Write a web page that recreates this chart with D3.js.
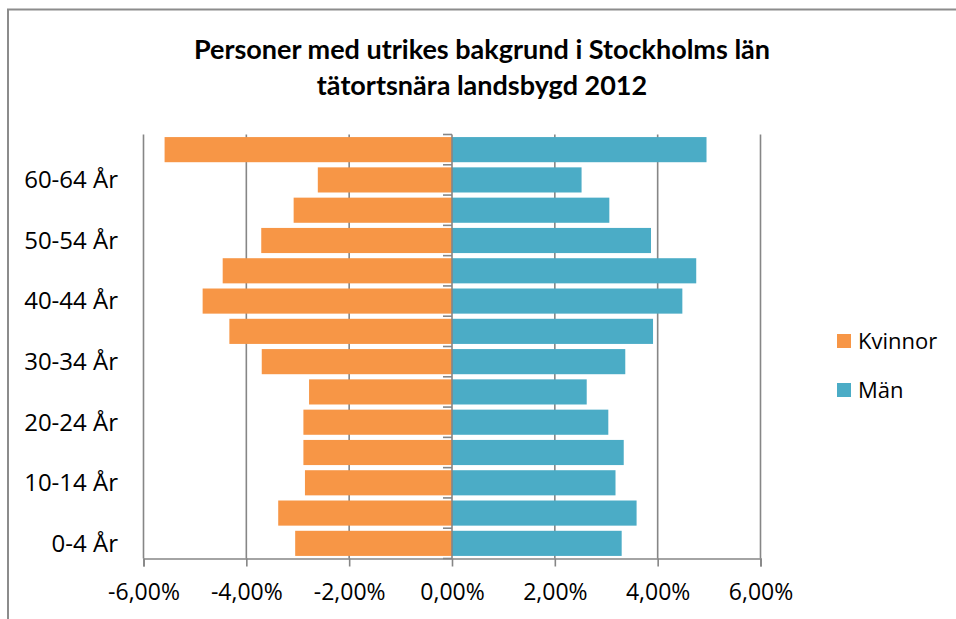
<!DOCTYPE html>
<html>
<head>
<meta charset="utf-8">
<script src="https://cdn.jsdelivr.net/npm/d3@7"></script>
<style>
  html, body { margin: 0; padding: 0; background: #fff; }
  svg { display: block; }
</style>
</head>
<body>
<svg id="chart" width="956" height="619"></svg>
<script>
const titleLines = ["Personer med utrikes bakgrund i Stockholms län", "tätortsnära landsbygd 2012"];
const categories = ["0-4 År","5-9 År","10-14 År","15-19 År","20-24 År","25-29 År","30-34 År","35-39 År","40-44 År","45-49 År","50-54 År","55-59 År","60-64 År","65- År"];
const shownLabels = ["0-4 År","10-14 År","20-24 År","30-34 År","40-44 År","50-54 År","60-64 År"];
const kvinnor = [3.05, 3.38, 2.86, 2.89, 2.89, 2.78, 3.70, 4.33, 4.85, 4.46, 3.71, 3.08, 2.61, 5.59];
const man = [3.30, 3.59, 3.18, 3.34, 3.04, 2.62, 3.37, 3.91, 4.48, 4.75, 3.87, 3.06, 2.52, 4.95];
const xTicks = [-6, -4, -2, 0, 2, 4, 6];
const seriesNames = ["Kvinnor", "Män"];
const colors = ["#F79646", "#4BACC6"];

const svg = d3.select("#chart");
const axisColor = "#868686";
const fontAxis = "'Open Sans', sans-serif";

// outer frame
svg.append("rect").attr("x", 8).attr("y", 9.5).attr("width", 1000).attr("height", 700)
  .attr("fill", "none").attr("stroke", "#8c8c8c").attr("stroke-width", 2);

// title
svg.append("text").attr("text-anchor", "middle")
  .attr("font-family", "Lato, sans-serif").attr("font-weight", "bold").attr("font-size", 27)
  .attr("fill", "#000")
  .selectAll("tspan").data(titleLines).join("tspan")
  .attr("x", 482).attr("y", (d, i) => 59 + i * 36).text(d => d);

const x = d3.scaleLinear().domain([-6, 6]).range([143.5, 760.5]);
const y = d3.scaleBand().domain(categories).range([558.5, 134.5]).paddingInner(0.17).paddingOuter(0.085);

// gridlines
const g = svg.append("g");
g.selectAll("line.grid").data(xTicks.filter(t => t !== 0)).join("line")
  .attr("x1", d => x(d)).attr("x2", d => x(d))
  .attr("y1", 134.5).attr("y2", 558.5)
  .attr("stroke", axisColor).attr("stroke-width", 1.6);

// bars
g.selectAll("rect.k").data(categories).join("rect").attr("class", "k")
  .attr("x", (d, i) => x(-kvinnor[i])).attr("width", (d, i) => x(0) - x(-kvinnor[i]))
  .attr("y", d => y(d)).attr("height", y.bandwidth())
  .attr("fill", colors[0]);
g.selectAll("rect.m").data(categories).join("rect").attr("class", "m")
  .attr("x", x(0)).attr("width", (d, i) => x(man[i]) - x(0))
  .attr("y", d => y(d)).attr("height", y.bandwidth())
  .attr("fill", colors[1]);

// x axis
const xAxis = d3.axisBottom(x).tickValues(xTicks).tickSize(8).tickPadding(17)
  .tickFormat(d => d3.format(".2f")(d).replace(".", ",").replace("−", "-") + "%");
const xa = svg.append("g").attr("transform", "translate(0,558.5)").call(xAxis);
xa.select(".domain").attr("stroke", axisColor).attr("stroke-width", 1.6);
xa.selectAll(".tick line").attr("stroke", axisColor).attr("stroke-width", 1.6);
xa.selectAll(".tick text").attr("font-family", fontAxis).attr("font-size", 23).attr("fill", "#000");

// y axis at zero, ticks at band boundaries
const boundaries = d3.range(categories.length + 1).map(i => 558.5 - i * (424 / categories.length));
svg.append("line").attr("x1", x(0)).attr("x2", x(0)).attr("y1", 134.5).attr("y2", 558.5)
  .attr("stroke", axisColor).attr("stroke-width", 1.6);
svg.selectAll("line.ytick").data(boundaries).join("line")
  .attr("x1", x(0) - 9).attr("x2", x(0)).attr("y1", d => d).attr("y2", d => d)
  .attr("stroke", axisColor).attr("stroke-width", 1.6);

// category labels
svg.selectAll("text.cat").data(shownLabels).join("text")
  .attr("x", 118).attr("y", d => y(d) + y.bandwidth() / 2)
  .attr("dy", "0.35em").attr("text-anchor", "end")
  .attr("font-family", fontAxis).attr("font-size", 24).attr("fill", "#000")
  .text(d => d);

// legend
const lg = svg.append("g");
seriesNames.forEach((name, i) => {
  const yy = 341 + i * 49;
  lg.append("rect").attr("x", 837).attr("y", yy - 7).attr("width", 14).attr("height", 14).attr("fill", colors[i]);
  lg.append("text").attr("x", 858).attr("y", yy).attr("dy", "0.35em")
    .attr("font-family", fontAxis).attr("font-size", 22).attr("fill", "#000").text(name);
});
</script>
</body>
</html>
